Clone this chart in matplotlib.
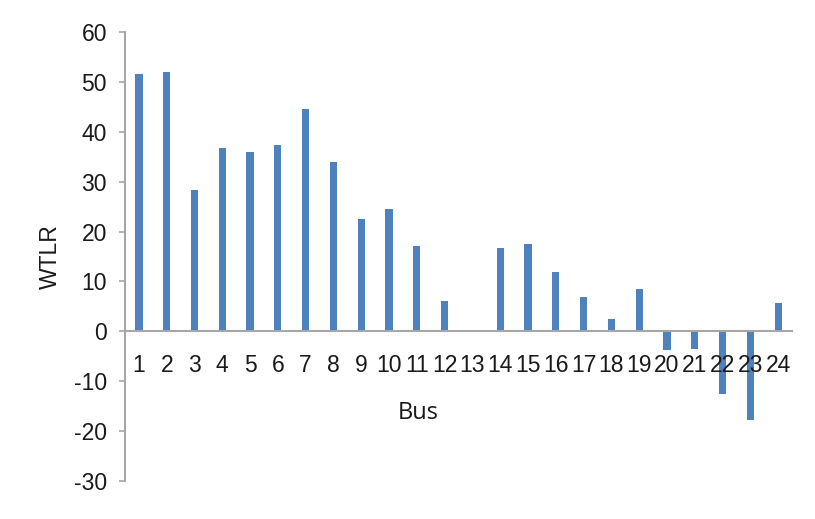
import numpy as np
import matplotlib
matplotlib.use('Agg')
import matplotlib.pyplot as plt

# ============================================================================
# DATA
# ============================================================================

buses = list(range(1, 25))
wtlr = [51.6, 52.0, 28.3, 36.8, 36.0, 37.4, 44.6, 33.9, 22.6, 24.6, 17.2, 6.1,
        0.0, 16.7, 17.5, 11.8, 6.9, 2.5, 8.4, -3.7, -3.5, -12.5, -17.7, 5.6]
yticks = [-30, -20, -10, 0, 10, 20, 30, 40, 50, 60]

bar_color = '#4F81BD'
axis_color = '#A6A6A6'
text_color = '#1a1a1a'

plt.rcParams['axes.unicode_minus'] = False

# ============================================================================
# PLOT
# ============================================================================

fig = plt.figure(figsize=(8.15, 5.19), dpi=100)
ax = fig.add_axes([0.1534, 0.0732, 0.9718 - 0.1534, 0.9383 - 0.0732])

ax.bar(buses, wtlr, width=0.26, color=bar_color)

ax.set_xlim(0.5, 24.5)
ax.set_ylim(-30, 60)
ax.set_yticks(yticks)
ax.set_xticks(buses)

# x axis sits on the zero line, like the Excel chart
ax.spines['bottom'].set_position(('data', 0))
ax.spines['bottom'].set_color(axis_color)
ax.spines['bottom'].set_linewidth(1.5)
ax.spines['left'].set_color(axis_color)
ax.spines['left'].set_linewidth(1.5)
ax.spines['top'].set_visible(False)
ax.spines['right'].set_visible(False)

ax.tick_params(axis='x', length=0, pad=16, labelsize=16.5, labelcolor=text_color)
ax.tick_params(axis='y', length=4, width=1.2, color=axis_color, pad=9,
               labelsize=16.5, labelcolor=text_color)
for lbl in ax.get_xticklabels() + ax.get_yticklabels():
    lbl.set_family('Liberation Sans')

ax.text(0.513, 0.204, 'Bus', transform=fig.transFigure, ha='center', va='center',
        fontsize=17, family='Open Sans', color=text_color)
ax.text(0.062, 0.505, 'WTLR', transform=fig.transFigure, ha='center', va='center',
        rotation=90, fontsize=16.5, family='Liberation Sans', color=text_color)

plt.savefig('out.png', dpi=100)
plt.close()
